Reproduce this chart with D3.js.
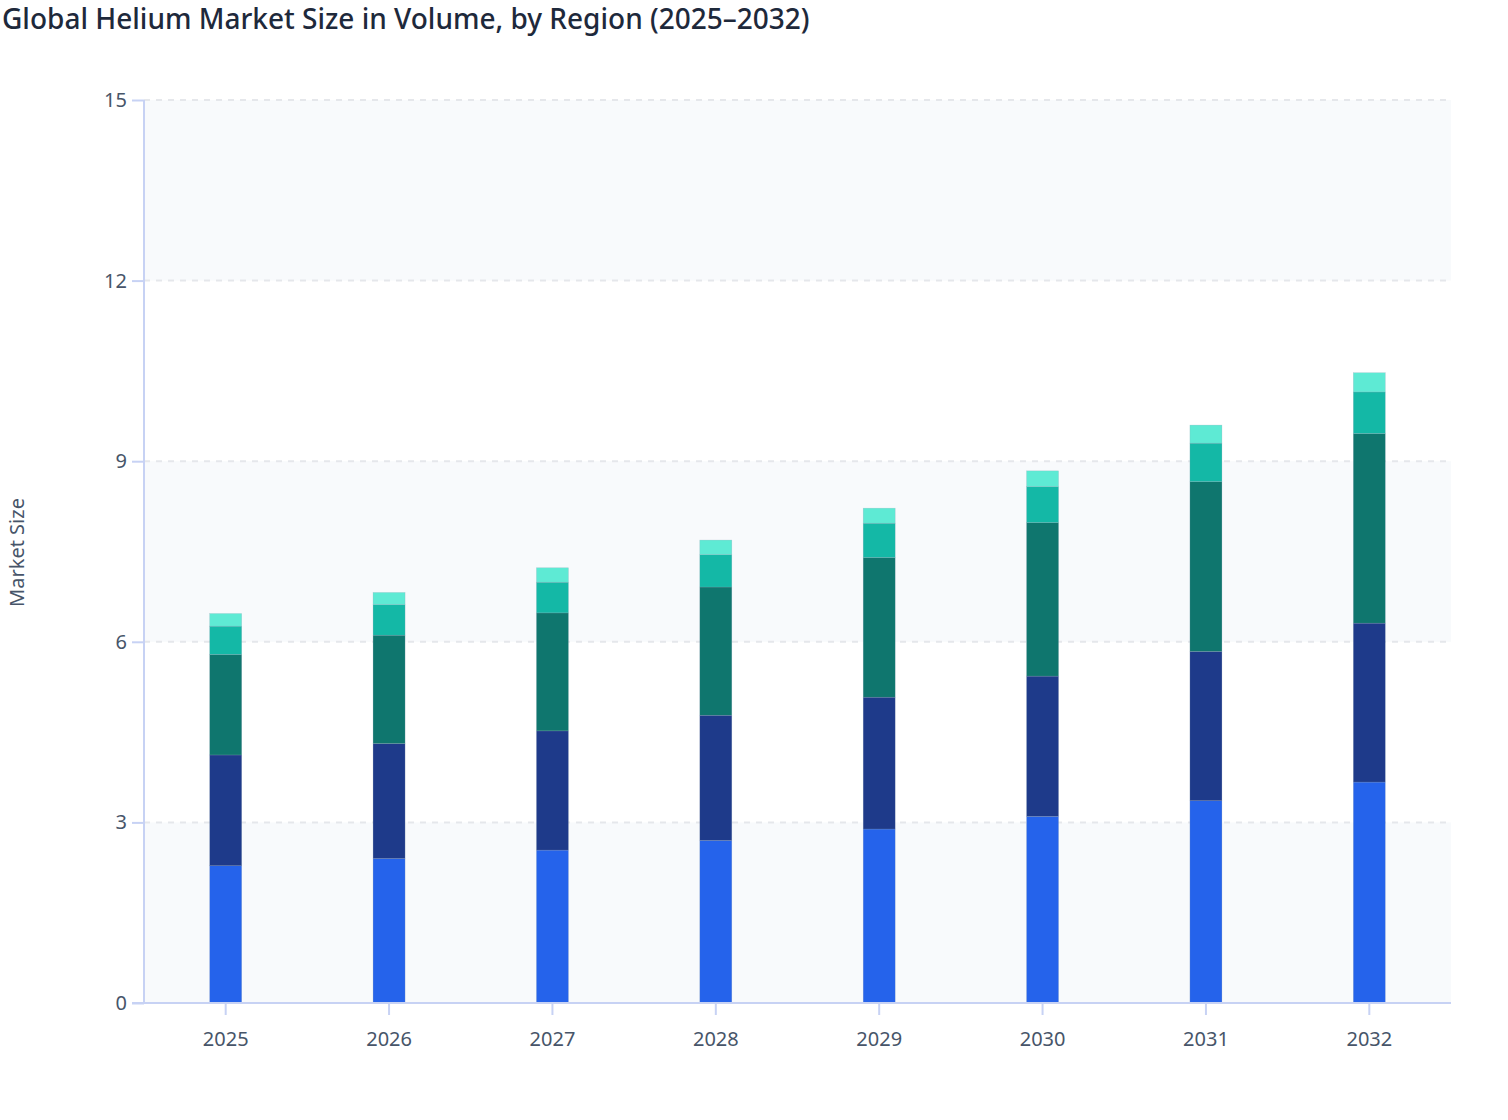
<!DOCTYPE html>
<html>
<head>
<meta charset="utf-8">
<script src="https://cdn.jsdelivr.net/npm/d3@7"></script>
<style>
  html, body { margin: 0; padding: 0; background: #ffffff; }
  svg { display: block; font-family: "Noto Sans", "Open Sans", sans-serif; }
</style>
</head>
<body>
<svg id="chart" width="1508" height="1120"></svg>
<script>
// ---- Data ----
const years = ["2025", "2026", "2027", "2028", "2029", "2030", "2031", "2032"];
const regions = ["North America", "Asia Pacific", "Europe", "Middle East & Africa", "Latin America"];
const northAmerica = [2.28, 2.40, 2.54, 2.70, 2.89, 3.10, 3.36, 3.67];
const asiaPacific  = [1.84, 1.91, 1.98, 2.08, 2.19, 2.33, 2.48, 2.64];
const europe       = [1.67, 1.80, 1.96, 2.13, 2.32, 2.55, 2.82, 3.15];
const mea          = [0.47, 0.51, 0.51, 0.54, 0.57, 0.60, 0.64, 0.69];
const latinAmerica = [0.21, 0.20, 0.24, 0.24, 0.25, 0.26, 0.30, 0.32];
const yTicks = [0, 3, 6, 9, 12, 15];
const colors = ["#2563eb", "#1e3a8a", "#0f766e", "#14b8a6", "#5eead4"];

const seriesValues = [northAmerica, asiaPacific, europe, mea, latinAmerica];
const rows = years.map((yr, i) => {
  const r = { year: yr };
  regions.forEach((name, k) => { r[name] = seriesValues[k][i]; });
  return r;
});

// ---- Layout ----
const svg = d3.select("#chart");
const pLeft = 144, pRight = 1451, pTop = 100, pBottom = 1003;

const x = d3.scaleBand().domain(years).range([pLeft, pRight]).paddingInner(0.804).paddingOuter(0.402);
const y = d3.scaleLinear().domain([0, 15]).range([pBottom, pTop]);

// title
svg.append("text")
  .attr("x", 2).attr("y", 29)
  .attr("font-size", 28).attr("font-weight", 500)
  .attr("fill", "#1e293b")
  .text("Global Helium Market Size in Volume, by Region (2025–2032)");

// alternating bands
const bands = svg.append("g");
for (let i = 0; i < yTicks.length - 1; i++) {
  if (i % 2 === 0) {
    bands.append("rect")
      .attr("x", pLeft).attr("width", pRight - pLeft)
      .attr("y", y(yTicks[i + 1])).attr("height", y(yTicks[i]) - y(yTicks[i + 1]))
      .attr("fill", "#f8fafc");
  }
}

// gridlines
svg.append("g").selectAll("line")
  .data(yTicks.filter(t => t > 0))
  .join("line")
  .attr("x1", pLeft).attr("x2", pRight)
  .attr("y1", d => y(d)).attr("y2", d => y(d))
  .attr("stroke", "#e5e7eb").attr("stroke-width", 2)
  .attr("stroke-dasharray", "6,6");

// stacked bars
const stacked = d3.stack().keys(regions)(rows);
svg.append("g").selectAll("g")
  .data(stacked)
  .join("g")
  .attr("fill", (d, i) => colors[i])
  .selectAll("rect")
  .data(d => d)
  .join("rect")
  .attr("x", d => x(d.data.year))
  .attr("width", x.bandwidth())
  .attr("y", d => y(d[1]))
  .attr("height", d => y(d[0]) - y(d[1]))
  .attr("stroke", "rgba(148,163,184,0.45)")
  .attr("stroke-width", 0.5);

// axes
const axisColor = "#c7d2f4";
const yAxis = svg.append("g")
  .attr("transform", `translate(${pLeft},0)`)
  .call(d3.axisLeft(y).tickValues(yTicks).tickSize(12).tickPadding(5).tickFormat(d3.format("d")));
const xAxis = svg.append("g")
  .attr("transform", `translate(0,${pBottom})`)
  .call(d3.axisBottom(x).tickSize(12).tickPadding(17));

[yAxis, xAxis].forEach(g => {
  g.select(".domain").attr("stroke", axisColor).attr("stroke-width", 2);
  g.selectAll(".tick line").attr("stroke", axisColor).attr("stroke-width", 2);
  g.selectAll(".tick text")
    .attr("fill", "#475569")
    .attr("font-size", 20)
    .attr("font-family", "\"Noto Sans\", \"Open Sans\", sans-serif");
});
yAxis.select(".domain").attr("d", `M0,${pBottom}V${pTop}`);
xAxis.select(".domain").attr("d", `M${pLeft - 12},0H${pRight}`);

// y axis title
svg.append("text")
  .attr("transform", `translate(24,${(pTop + pBottom) / 2 + 1}) rotate(-90)`)
  .attr("text-anchor", "middle")
  .attr("font-size", 20)
  .attr("fill", "#475569")
  .text("Market Size");
</script>
</body>
</html>
